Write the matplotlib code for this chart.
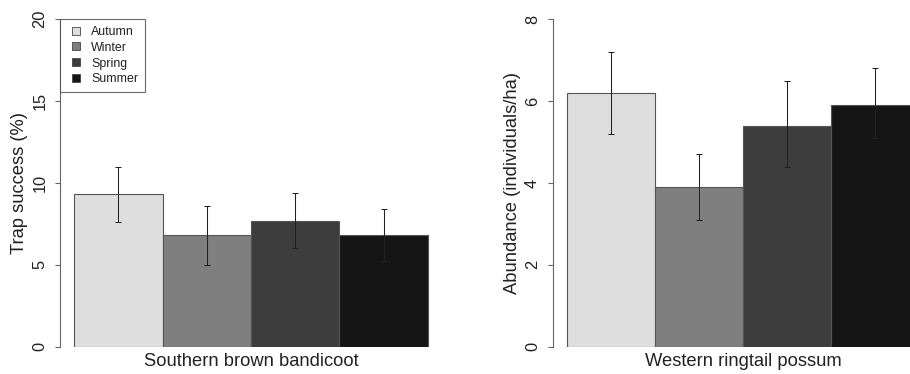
import matplotlib
matplotlib.use("Agg")
import matplotlib.pyplot as plt
from matplotlib.lines import Line2D
import numpy as np

plt.rcParams['font.family'] = ['Liberation Sans', 'DejaVu Sans']

seasons = ["Autumn", "Winter", "Spring", "Summer"]
season_colors = ["#dedede", "#7f7f7f", "#3d3d3d", "#151515"]

# Southern brown bandicoot: trap success (%) with lower/upper error limits
bandicoot_mean = [9.3, 6.8, 7.7, 6.85]
bandicoot_lower = [7.6, 5.0, 6.0, 5.25]
bandicoot_upper = [11.0, 8.6, 9.4, 8.4]

# Western ringtail possum: abundance (individuals/ha) with error limits
possum_mean = [6.2, 3.9, 5.4, 5.9]
possum_lower = [5.2, 3.1, 4.4, 5.1]
possum_upper = [7.2, 4.7, 6.5, 6.8]

W, H = 910, 374
fig = plt.figure(figsize=(W / 100, H / 100), dpi=100)
fig.patch.set_facecolor("white")

TEXT = "#222222"
AXIS = "#666666"


def panel(rect, mean, lower, upper, ymax, yticks, ylabel, xlabel):
    ax = fig.add_axes(rect)
    x = np.arange(len(mean))
    ax.bar(x, mean, width=1.0, color=season_colors, edgecolor="#555555",
           linewidth=0.8, zorder=2)
    mean_a = np.asarray(mean)
    yerr = np.vstack([mean_a - np.asarray(lower), np.asarray(upper) - mean_a])
    ax.errorbar(x, mean, yerr=yerr, fmt="none", ecolor=TEXT, elinewidth=0.75,
                capsize=2.3, capthick=0.75, zorder=3)
    gap = 0.16
    ax.set_xlim(-0.5 - gap, len(mean) - 0.5 + gap)
    ax.set_ylim(0, ymax)
    for s in ["top", "right", "bottom"]:
        ax.spines[s].set_visible(False)
    ax.spines["left"].set_color(AXIS)
    ax.spines["left"].set_linewidth(0.8)
    ax.spines["left"].set_bounds(0, ymax)
    ax.set_xticks([])
    ax.set_yticks(yticks)
    ax.set_yticklabels([str(t) for t in yticks], rotation=90, va="center",
                       fontsize=11.8, color=TEXT)
    ax.tick_params(axis="y", length=3.6, width=0.8, color=AXIS, pad=5.5,
                   direction="out")
    ax.set_ylabel(ylabel, fontsize=13.2, color=TEXT, labelpad=3)
    ax.set_xlabel(xlabel, fontsize=13.2, color=TEXT, labelpad=4.5)
    ax.patch.set_alpha(0)
    return ax


ax1 = panel([60 / W, 27.3 / H, 382 / W, 327.4 / H], bandicoot_mean,
            bandicoot_lower, bandicoot_upper, 20, [0, 5, 10, 15, 20],
            "Trap success (%)", "Southern brown bandicoot")

ax2 = panel([552.7 / W, 27.3 / H, 381 / W, 327.4 / H], possum_mean,
            possum_lower, possum_upper, 8, [0, 2, 4, 6, 8],
            "Abundance (individuals/ha)", "Western ringtail possum")

handles = [Line2D([], [], linestyle="none", marker="s", markersize=6,
                  markerfacecolor=c, markeredgecolor="#444444",
                  markeredgewidth=0.6) for c in season_colors]
leg = ax1.legend(handles, seasons, loc="upper left", bbox_to_anchor=(0, 1),
                 borderaxespad=0, fontsize=8.9, frameon=True, fancybox=False,
                 handlelength=1.55, handletextpad=0.42, labelspacing=0.3,
                 borderpad=0.55)
leg.get_frame().set_edgecolor("#444444")
leg.get_frame().set_linewidth(0.8)
for t in leg.get_texts():
    t.set_color(TEXT)

fig.savefig("out.png", dpi=100, facecolor="white")
